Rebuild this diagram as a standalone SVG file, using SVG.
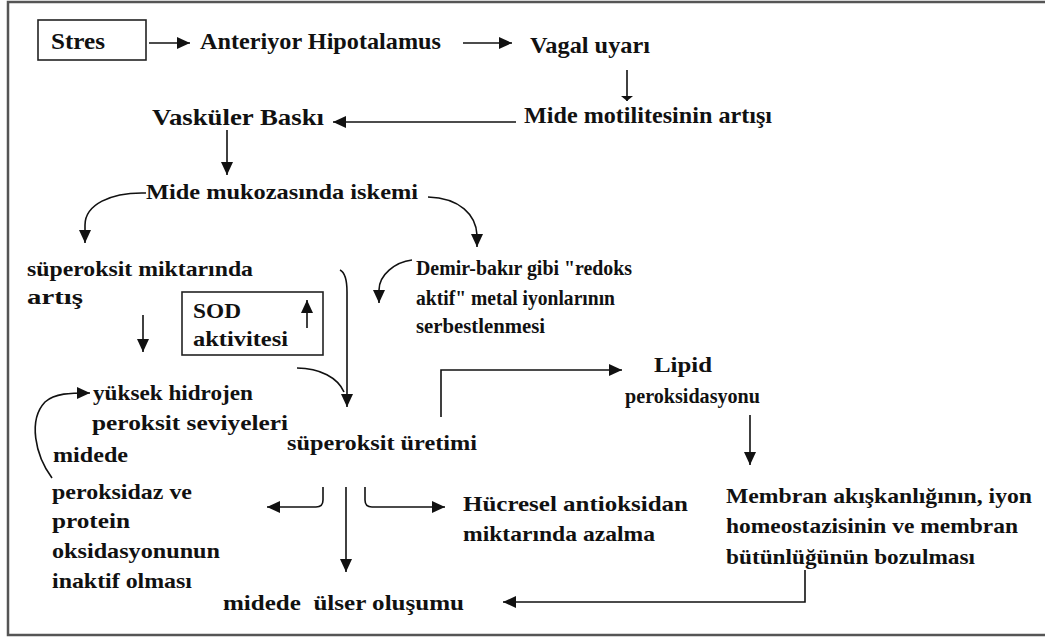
<svg xmlns="http://www.w3.org/2000/svg" width="1045" height="641" viewBox="0 0 1045 641">
<style>
.c{fill:none;stroke:#111;stroke-width:1.6}
.box{fill:none;stroke:#222;stroke-width:1.6}
</style>
<defs>
<marker id="ah" markerUnits="userSpaceOnUse" markerWidth="14" markerHeight="12" refX="13" refY="6" orient="auto">
<path d="M0,0 L13,6 L0,12 Z" fill="#111"/>
</marker>
<marker id="flat" markerUnits="userSpaceOnUse" markerWidth="8" markerHeight="14" refX="5" refY="7" orient="auto">
<path d="M0,1 L5,7 L0,13 Z" fill="#111"/>
</marker>
</defs>
<rect x="8" y="2" width="1050" height="633" fill="#fff" stroke="#555" stroke-width="2.5"/>
<g font-family="'Liberation Serif', 'DejaVu Serif', serif" font-size="22" font-weight="bold" fill="#111" lengthAdjust="spacingAndGlyphs">
<g id="stres"><rect class="box" x="38" y="20" width="108" height="40"/><text font-size="23" x="51" y="49" textLength="54" lengthAdjust="spacingAndGlyphs">Stres</text></g>
<g id="anteriyor"><text font-size="23" x="200" y="49" textLength="241" lengthAdjust="spacingAndGlyphs">Anteriyor Hipotalamus</text></g>
<g id="vagal"><text font-size="23" x="530" y="53" textLength="120" lengthAdjust="spacingAndGlyphs">Vagal uyarı</text></g>
<g id="motilite"><text font-size="23" x="524" y="123" textLength="248" lengthAdjust="spacingAndGlyphs">Mide motilitesinin artışı</text></g>
<g id="vaskuler"><text font-size="23" x="152" y="125" textLength="172" lengthAdjust="spacingAndGlyphs">Vasküler Baskı</text></g>
<g id="iskemi"><text x="146" y="199" textLength="272" lengthAdjust="spacingAndGlyphs">Mide mukozasında iskemi</text></g>
<g id="superoksit-miktar"><text x="27" y="276" textLength="226" lengthAdjust="spacingAndGlyphs">süperoksit miktarında</text><text x="27" y="304" textLength="56" lengthAdjust="spacingAndGlyphs">artış</text></g>
<g id="sod"><rect class="box" x="182" y="292" width="141" height="63"/><text x="193" y="318" textLength="48" lengthAdjust="spacingAndGlyphs">SOD</text><text x="193" y="346" textLength="95" lengthAdjust="spacingAndGlyphs">aktivitesi</text><line class="c" x1="307" y1="328" x2="307" y2="300" marker-end="url(#ah)"/></g>
<g id="demir"><text x="416" y="275" textLength="216" lengthAdjust="spacingAndGlyphs">Demir-bakır gibi "redoks</text><text x="416" y="305" textLength="199" lengthAdjust="spacingAndGlyphs">aktif" metal iyonlarının</text><text x="416" y="333" textLength="129" lengthAdjust="spacingAndGlyphs">serbestlenmesi</text></g>
<g id="hidrojen"><text x="93" y="400" textLength="160" lengthAdjust="spacingAndGlyphs">yüksek hidrojen</text><text x="92" y="430" textLength="196" lengthAdjust="spacingAndGlyphs">peroksit seviyeleri</text></g>
<g id="midede"><text x="53" y="462" textLength="75" lengthAdjust="spacingAndGlyphs">midede</text></g>
<g id="superoksit-uretimi"><text x="287" y="450" textLength="190" lengthAdjust="spacingAndGlyphs">süperoksit üretimi</text></g>
<g id="lipid"><text x="654" y="372" textLength="58" lengthAdjust="spacingAndGlyphs">Lipid</text><text x="625" y="403" textLength="135" lengthAdjust="spacingAndGlyphs">peroksidasyonu</text></g>
<g id="membran"><text x="726" y="503" textLength="306" lengthAdjust="spacingAndGlyphs">Membran akışkanlığının, iyon</text><text x="726" y="533" textLength="292" lengthAdjust="spacingAndGlyphs">homeostazisinin ve membran</text><text x="726" y="564" textLength="249" lengthAdjust="spacingAndGlyphs">bütünlüğünün bozulması</text></g>
<g id="hucresel"><text x="463" y="511" textLength="225" lengthAdjust="spacingAndGlyphs">Hücresel antioksidan</text><text x="463" y="541" textLength="192" lengthAdjust="spacingAndGlyphs">miktarında azalma</text></g>
<g id="peroksidaz"><text x="52" y="499" textLength="140" lengthAdjust="spacingAndGlyphs">peroksidaz ve</text><text x="52" y="528" textLength="78" lengthAdjust="spacingAndGlyphs">protein</text><text x="52" y="558" textLength="168" lengthAdjust="spacingAndGlyphs">oksidasyonunun</text><text x="52" y="588" textLength="140" lengthAdjust="spacingAndGlyphs">inaktif olması</text></g>
<g id="ulser"><text x="223" y="610" textLength="241" lengthAdjust="spacingAndGlyphs" xml:space="preserve">midede  ülser oluşumu</text></g>
</g>
<g id="connectors">
<path class="c" d="M149,43 H190" marker-end="url(#ah)"/>
<path class="c" d="M463,43 H512" marker-end="url(#ah)"/>
<path class="c" d="M627,70 V101" marker-end="url(#flat)"/>
<path class="c" d="M516,122 H333" marker-end="url(#ah)"/>
<path class="c" d="M227,130 V175" marker-end="url(#ah)"/>
<path class="c" d="M146,193 C110,192 85,205 85,225 V243" marker-end="url(#ah)"/>
<path class="c" d="M428,197 C460,198 476,215 477,235 V247" marker-end="url(#ah)"/>
<path class="c" d="M412,260 C395,262 379,275 379,290 V303" marker-end="url(#ah)"/>
<path class="c" d="M143,315 V352" marker-end="url(#ah)"/>
<path class="c" d="M340,270 C346,273 347,282 347,292 V407" marker-end="url(#ah)"/>
<path class="c" d="M297,368 C320,368 338,378 344,392"/>
<path class="c" d="M52,478 C35,455 28,420 45,402 C55,393 70,393 90,393" marker-end="url(#ah)"/>
<path class="c" d="M441,417 V370 H622" marker-end="url(#ah)"/>
<path class="c" d="M750,415 V465" marker-end="url(#ah)"/>
<path class="c" d="M805,570 V602 H503" marker-end="url(#ah)"/>
<path class="c" d="M346,487 V572" marker-end="url(#ah)"/>
<path class="c" d="M323,487 V500 Q323,507 316,507 H267" marker-end="url(#ah)"/>
<path class="c" d="M365,487 V500 Q365,507 372,507 H445" marker-end="url(#ah)"/>
</g>
</svg>
